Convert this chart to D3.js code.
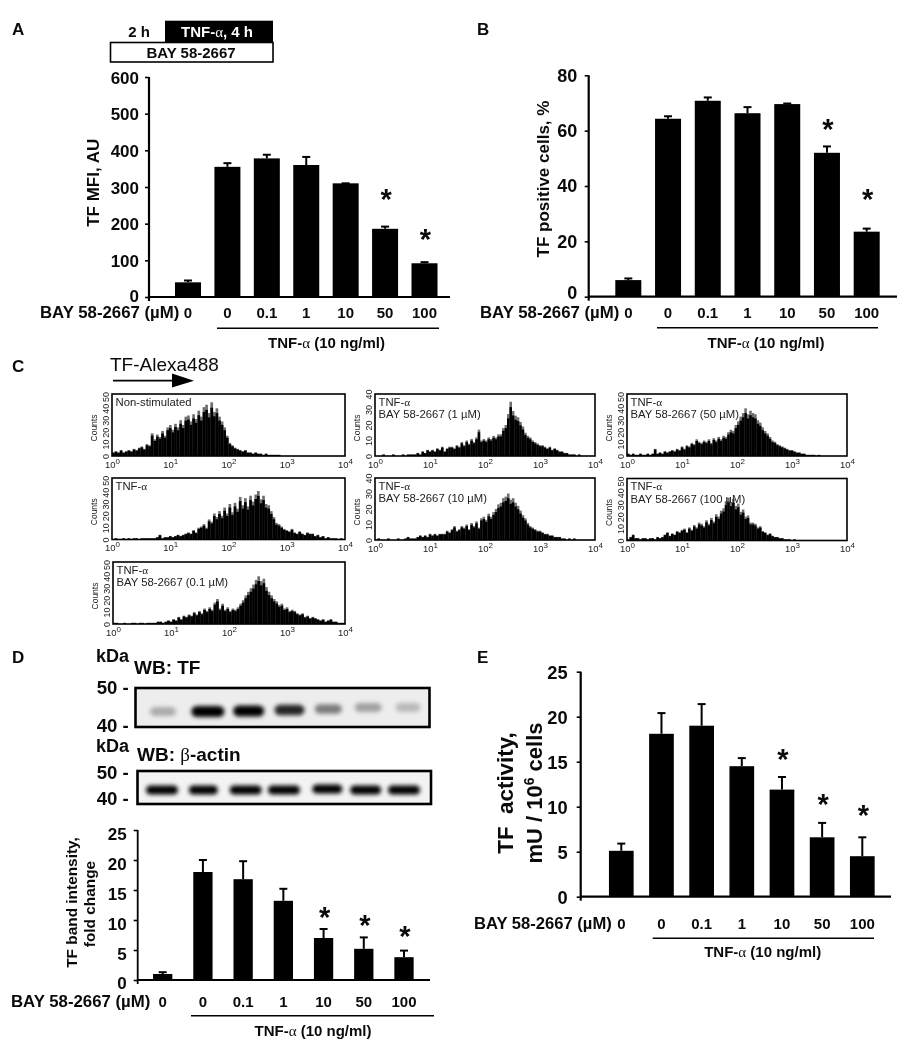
<!DOCTYPE html>
<html><head><meta charset="utf-8">
<script src="https://cdn.jsdelivr.net/npm/d3@7"></script>
<style>
html,body{margin:0;padding:0;background:#fff}
svg{display:block;filter:blur(0.35px)}
text{font-family:"Liberation Sans",Arial,sans-serif;fill:#0a0a0a}
.b{font-weight:700}
</style></head><body><div id="c"></div>
<script>
// ---------- data ----------
const doseLabels = ["0","0","0.1","1","10","50","100"];
const tfMfi      = [40,355,378,360,310,186,92];
const tfMfiTop   = [45,365,388,382,310,192,95];
const tfMfiStar  = [null,null,null,null,null,273,164];
const tfPos      = [6,64.3,70.8,66.3,69.6,52,23.5];
const tfPosTop   = [6.6,65.2,72,68.5,69.8,54.3,24.6];
const tfPosStar  = [null,null,null,null,null,61.3,36];
const band       = [1,18,16.8,13.2,7,5.2,3.8];
const bandTop    = [1.3,20,19.8,15.2,8.5,7.1,4.9];
const bandStar   = [null,null,null,null,10.8,9.55,7.67];
const activity   = [5.1,18.1,19,14.5,11.9,6.6,4.5];
const activityTop= [5.9,20.4,21.4,15.4,13.3,8.2,6.6];
const activityStar=[null,null,null,null,15.5,10.5,9.27];

const histNon = [3,4,3,5,3,4,5,4,6,5,7,8,6,10,9,19,14,18,16,21,17,24,26,22,27,24,30,26,33,34,29,35,31,38,33,41,43,36,45,37,40,33,29,24,17,11,9,7,6,5,4,5,3,3,2,3,2,2,1,2,1,1,1,1,1,0,0,0,0,0];
const histTnf = [0,1,0,0,1,0,1,0,1,1,0,1,1,1,1,1,1,2,4,1,2,2,3,2,3,4,3,4,5,6,5,8,6,10,11,13,10,17,15,22,19,24,20,27,22,30,23,31,26,36,29,35,28,37,32,38,41,34,37,30,29,24,19,14,13,11,9,8,7,9,6,5,7,5,4,6,5,5,3,4,2,3,1,2,1,1,1,0,1,0];
const hist01  = [1,1,0,0,1,0,0,1,1,0,1,1,0,1,1,1,1,2,2,1,2,3,2,4,3,6,4,7,6,8,7,10,8,11,9,13,11,14,12,18,21,13,17,12,14,11,13,12,14,17,20,24,27,30,33,37,40,36,38,31,27,24,21,19,16,17,13,14,11,12,11,9,8,9,6,7,5,6,5,4,3,4,2,3,4,2,2,1,1,1];
const hist1   = [0,0,0,1,0,0,0,1,0,0,0,1,0,1,1,1,1,2,1,3,2,4,3,4,3,5,4,6,3,5,6,6,5,7,6,9,7,10,8,11,9,12,17,10,11,10,12,11,13,12,14,14,18,20,27,35,29,26,25,22,19,15,13,12,10,9,8,7,7,6,5,6,4,5,4,3,3,2,2,1,1,1,0,1,0,0,0,0,0,0];
const hist10  = [0,1,0,0,0,1,0,0,0,1,0,0,1,2,1,1,1,2,3,2,3,2,4,3,4,3,4,4,4,6,5,7,9,6,7,9,8,10,7,11,9,12,8,14,15,13,17,15,18,20,23,24,27,28,30,26,27,24,22,19,16,14,11,9,8,7,6,6,5,4,4,3,3,2,2,2,1,1,0,1,0,1,0,0,0,0,0,0,0,0];
const hist50  = [2,1,2,1,1,2,1,1,2,1,2,6,2,3,2,4,3,4,5,4,6,5,8,6,9,8,11,10,14,12,11,13,12,14,11,15,13,16,14,17,16,20,22,21,26,29,33,36,40,35,38,36,35,30,28,24,21,19,16,13,12,10,9,8,7,6,5,5,4,3,3,2,2,1,1,1,1,0,1,0,0,0,0,0,0,0,0,0,0,0];
const hist100 = [1,3,5,2,2,1,2,2,1,2,2,1,3,2,3,5,7,4,6,5,8,7,9,10,7,11,9,13,11,15,14,12,17,14,19,16,22,20,25,27,33,36,32,35,29,31,24,26,20,21,15,15,14,11,12,8,7,5,6,4,3,3,2,2,1,1,1,0,1,0,0,0,0,0,0,0,0,0,0,0];

const tfBlot    = [0.28,1,1,0.85,0.48,0.32,0.22];
const actinBlot = [1,1,1,1,1,1,1];

// ---------- layout ----------
const W = 902, H = 1050;
const svg = d3.select("#c").append("svg").attr("width",W).attr("height",H).attr("viewBox",[0,0,W,H]);
const defs = svg.append("defs");
defs.append("filter").attr("id","blot").attr("x","-30%").attr("y","-100%").attr("width","160%").attr("height","300%")
  .append("feGaussianBlur").attr("stdDeviation","2.2 1.9");

function txt(x,y,s,size,opt={}){
  const t = svg.append("text").attr("x",x).attr("y",y).attr("font-size",size)
    .attr("text-anchor",opt.anchor||"start").attr("font-weight",opt.weight||700);
  if(opt.fill) t.style("fill",opt.fill);
  if(opt.rotate) t.attr("transform",`rotate(-90 ${x} ${y})`);
  return t.text(s);
}
function alpha(sel,parts){
  sel.text(null);
  parts.forEach(p=>{
    const ts = sel.append("tspan").text(p);
    if(p==="α") ts.style("font-family","'Liberation Serif',serif").attr("font-weight",400);
  });
  return sel;
}
function hline(x1,x2,y,w){svg.append("line").attr("x1",x1).attr("x2",x2).attr("y1",y).attr("y2",y).attr("stroke","#000").attr("stroke-width",w);}

function barPanel(c){
  const y = d3.scaleLinear().domain([0,c.max]).range([c.y0,c.yTop]);
  const step = (c.lastC-c.firstC)/6;
  const pad = 1-c.barW/step;
  const x = d3.scaleBand().domain(d3.range(7)).range([c.firstC-step/2,c.lastC+step/2]).paddingInner(pad).paddingOuter(pad/2);
  const g = svg.append("g");
  g.selectAll("rect.bar").data(c.values).join("rect").attr("class","bar")
    .attr("x",(d,i)=>x(i)).attr("width",x.bandwidth()).attr("y",d=>y(d)).attr("height",d=>c.y0-y(d)).attr("fill","#000");
  g.selectAll("line.err").data(c.tops).join("line").attr("class","err")
    .attr("x1",(d,i)=>x(i)+x.bandwidth()/2).attr("x2",(d,i)=>x(i)+x.bandwidth()/2)
    .attr("y1",(d,i)=>y(c.values[i])).attr("y2",d=>y(d)).attr("stroke","#000").attr("stroke-width",2);
  g.selectAll("line.cap").data(c.tops).join("line").attr("class","cap")
    .attr("x1",(d,i)=>x(i)+x.bandwidth()/2-4).attr("x2",(d,i)=>x(i)+x.bandwidth()/2+4)
    .attr("y1",d=>y(d)).attr("y2",d=>y(d)).attr("stroke","#000").attr("stroke-width",2);
  c.stars.forEach((d,i)=>{
    if(d===null) return;
    g.append("text").attr("class","b").attr("x",x(i)+x.bandwidth()/2+1).attr("y",y(d)+12)
     .attr("text-anchor","middle").attr("font-size",29).attr("font-weight",700).text("*");
  });
  const ya = g.append("g").attr("transform",`translate(${c.axisX},0)`)
    .call(d3.axisLeft(y).tickValues(c.ticks).tickSize(4).tickPadding(c.tickPad).tickFormat(d3.format("d")));
  ya.selectAll("line").attr("stroke","#000").attr("stroke-width",1.6);
  ya.select(".domain").attr("stroke","#000").attr("stroke-width",c.axisW).attr("d",`M0,${c.y0+4}V${c.yTop}`);
  ya.selectAll("text").attr("font-size",c.tickSize).attr("font-weight",700)
    .attr("dy",d=>d===0?c.zeroDy+"em":c.tickDy+"em")
    .style("font-family","'Liberation Sans',Arial,sans-serif").style("fill","#0a0a0a");
  hline(c.axisX,c.axisEnd,c.y0,c.axisW);
  const xa = g.append("g").attr("transform",`translate(0,${c.y0})`)
    .call(d3.axisBottom(x).tickSize(0).tickFormat(i=>doseLabels[i]));
  xa.select(".domain").remove();
  xa.selectAll("text").attr("y",c.catY).attr("dy",0).attr("font-size",c.catSize).attr("font-weight",700)
    .style("font-family","'Liberation Sans',Arial,sans-serif").style("fill","#0a0a0a");
  txt(c.bayX,c.bayY,"BAY 58-2667 (µM)",c.baySize);
  hline(c.lineX1,c.lineX2,c.lineY,1.6);
  alpha(txt(c.tnfX,c.tnfY,"",15,{anchor:"middle"}),["TNF-","α"," (10 ng/ml)"]);
}

barPanel({values:tfMfi,tops:tfMfiTop,stars:tfMfiStar,max:600,y0:297,yTop:77,firstC:188,lastC:424.5,barW:26,
  axisX:149,axisEnd:450,axisW:2.2,ticks:[0,100,200,300,400,500,600],tickPad:6,tickSize:17,tickDy:0.37,zeroDy:0.24,catY:21.3,catSize:15,
  bayX:40,bayY:317.5,baySize:16.8,lineX1:217,lineX2:439,lineY:328.3,tnfX:326.5,tnfY:348});
barPanel({values:tfPos,tops:tfPosTop,stars:tfPosStar,max:80,y0:296.7,yTop:75.3,firstC:628.3,lastC:866.7,barW:26,
  axisX:588.7,axisEnd:897,axisW:2.2,ticks:[0,20,40,60,80],tickPad:7.5,tickSize:18,tickDy:0.33,zeroDy:0.12,catY:21.3,catSize:15,
  bayX:480,bayY:317.5,baySize:16.8,lineX1:657,lineX2:878,lineY:327.7,tnfX:766,tnfY:348});
barPanel({values:band,tops:bandTop,stars:bandStar,max:25,y0:980,yTop:830,firstC:162.7,lastC:404,barW:19.3,
  axisX:137.7,axisEnd:430,axisW:1.8,ticks:[0,5,10,15,20,25],tickPad:7,tickSize:17,tickDy:0.55,zeroDy:0.47,catY:27,catSize:15,
  bayX:11,bayY:1006.7,baySize:16.8,lineX1:191,lineX2:434,lineY:1015.7,tnfX:313,tnfY:1035.7});
barPanel({values:activity,tops:activityTop,stars:activityStar,max:25,y0:896.7,yTop:671.7,firstC:621.3,lastC:862.3,barW:24.7,
  axisX:580.7,axisEnd:891,axisW:2.2,ticks:[0,5,10,15,20,25],tickPad:9,tickSize:18.3,tickDy:0.37,zeroDy:0.37,catY:32.6,catSize:15,
  bayX:474,bayY:929,baySize:16.6,lineX1:652.7,lineX2:874,lineY:938.3,tnfX:762.7,tnfY:957.3});

[["A",12,35],["B",477,35],["C",12,372],["D",12,663],["E",477,663]].forEach(d=>txt(d[1],d[2],d[0],17));

txt(99,182.7,"TF MFI, AU",17,{anchor:"middle",rotate:true});
txt(549,179,"TF positive cells, %",17,{anchor:"middle",rotate:true});
txt(76.7,902.5,"TF band intensity,",15.4,{anchor:"middle",rotate:true});
txt(95,904,"fold change",15.4,{anchor:"middle",rotate:true});
txt(512.7,793,"TF  activity,",22.4,{anchor:"middle",rotate:true}).style("white-space","pre");
{
  const t = txt(541.7,793,"",22,{anchor:"middle",rotate:true});
  t.append("tspan").text("mU / 10");
  t.append("tspan").attr("dy",-8).attr("font-size",14).text("6");
  t.append("tspan").attr("dy",8).text(" cells");
}

svg.append("rect").attr("x",165).attr("y",20.7).attr("width",108).attr("height",21.3).attr("fill","#000");
svg.append("rect").attr("x",110.5).attr("y",42.5).attr("width",162.5).attr("height",19.5).attr("fill","#fff").attr("stroke","#000").attr("stroke-width",1.6);
txt(139,36.7,"2 h",15,{anchor:"middle"});
alpha(txt(217,36.7,"",15,{anchor:"middle",fill:"#fff"}),["TNF-","α",", 4 h"]).selectAll("tspan").style("fill","#fff");
txt(191,58.3,"BAY 58-2667",15,{anchor:"middle"});

txt(110,371,"TF-Alexa488",19,{weight:400});
hline(113,174,380.7,1.8);
svg.append("path").attr("d",d3.line()([[172,373.5],[194,380.7],[172,387.5]])+"Z").attr("fill","#000");

function hist(c){
  const x = d3.scaleLog().domain([1,1e4]).range([c.x,c.x+c.w]);
  const y = d3.scaleLinear().domain([0,c.yMax]).range([c.y+c.h,c.y]);
  const g = svg.append("g");
  const binEdge = i=>x(Math.pow(10,i/22.5));
  g.selectAll("rect.t").data(c.data).join("rect").attr("class","t")
    .attr("x",(d,i)=>binEdge(i)).attr("width",(d,i)=>binEdge(i+1)-binEdge(i)+0.1)
    .attr("y",d=>y(d)).attr("height",d=>c.y+c.h-y(d)).attr("fill","#6e6e6e");
  g.selectAll("rect.s").data(c.data).join("rect").attr("class","s")
    .attr("x",(d,i)=>binEdge(i)).attr("width",(d,i)=>binEdge(i+1)-binEdge(i)+0.1)
    .attr("y",d=>y(d*0.9)).attr("height",d=>c.y+c.h-y(d*0.9)).attr("fill","#000");
  g.append("rect").attr("x",c.x).attr("y",c.y).attr("width",c.w).attr("height",c.h).attr("fill","none").attr("stroke","#000").attr("stroke-width",1.6);
  const xa = g.append("g").attr("transform",`translate(0,${c.y+c.h})`)
    .call(d3.axisBottom(x).tickValues([1,10,100,1000,10000]).tickSize(0).tickFormat(()=>""));
  xa.select(".domain").remove();
  xa.selectAll(".tick text").each(function(d){
    const t = d3.select(this).attr("y",11.5).attr("dy",0).attr("font-size",9.5).attr("text-anchor","middle")
      .style("font-family","'Liberation Sans',Arial,sans-serif").style("fill","#222");
    t.append("tspan").text("10");
    t.append("tspan").attr("dy",-4).attr("font-size",8).text(Math.round(Math.log10(d)));
  });
  const ya = g.append("g").attr("transform",`translate(${c.x},0)`)
    .call(d3.axisLeft(y).tickValues(c.ticks).tickSize(0).tickFormat(d3.format("d")));
  ya.select(".domain").remove();
  ya.selectAll("text").attr("x",0).attr("y",0).attr("dy",0).attr("text-anchor","middle").attr("font-size",9)
    .attr("transform","translate(-3,0) rotate(-90)")
    .style("font-family","'Liberation Sans',Arial,sans-serif").style("fill","#222");
  txt(c.x-15,c.y+c.h/2+3,"Counts",8.5,{anchor:"middle",rotate:true,weight:400,fill:"#222"});
  c.labels.forEach((l,i)=>{
    alpha(txt(c.x+3.5,c.y+11.5+i*12.5,"",11.3,{weight:400,fill:"#222"}),l);
  });
}
const t50=[0,10,20,30,40,50], t40=[0,10,20,30,40];
const bayLine = s=>["BAY 58-2667  ("+s+" µM)"];
hist({x:112,y:394,w:233,h:62,yMax:52,ticks:t50,data:histNon,labels:[["Non-stimulated"]]});
hist({x:112,y:478,w:233,h:61.5,yMax:52,ticks:t50,data:histTnf,labels:[["TNF-","α"]]});
hist({x:113,y:562,w:232,h:62,yMax:52,ticks:t50,data:hist01,labels:[["TNF-","α"],bayLine("0.1")]});
hist({x:375,y:394,w:220,h:62,yMax:40,ticks:t40,data:hist1,labels:[["TNF-","α"],bayLine("1")]});
hist({x:375,y:478,w:220,h:62,yMax:40,ticks:t40,data:hist10,labels:[["TNF-","α"],bayLine("10")]});
hist({x:627,y:394,w:220,h:62,yMax:52,ticks:t50,data:hist50,labels:[["TNF-","α"],bayLine("50")]});
hist({x:627,y:478.5,w:220,h:62,yMax:52,ticks:t50,data:hist100,labels:[["TNF-","α"],bayLine("100")]});

function blot(c){
  const id="clip"+c.id;
  defs.append("clipPath").attr("id",id).append("rect").attr("x",c.x).attr("y",c.y).attr("width",c.w).attr("height",c.h);
  svg.append("rect").attr("x",c.x).attr("y",c.y).attr("width",c.w).attr("height",c.h).attr("fill",c.bg);
  const lane = d3.scalePoint().domain(d3.range(7)).range(c.laneRange);
  const g = svg.append("g").attr("clip-path",`url(#${id})`);
  g.selectAll("rect.band").data(c.data).join("rect").attr("class","band")
    .attr("x",(d,i)=>lane(i)+c.shift[i]-c.hw[i]).attr("width",(d,i)=>2*c.hw[i])
    .attr("y",(d,i)=>c.cy+c.drift[i]-c.hh*(0.75+0.25*d)).attr("height",d=>2*c.hh*(0.75+0.25*d))
    .attr("rx",c.hh).attr("fill","#000").attr("fill-opacity",d=>d).attr("filter","url(#blot)");
  svg.append("rect").attr("x",c.x).attr("y",c.y).attr("width",c.w).attr("height",c.h).attr("fill","none").attr("stroke","#000").attr("stroke-width",2.6);
}
blot({id:"tf",x:135.5,y:688,w:294,h:39,bg:"#ededed",data:tfBlot,laneRange:[163,408],cy:711.5,hh:5.5,
  shift:[0,4,4,4,2,1,0],drift:[0,0,-0.5,-1.5,-2.5,-4,-4],hw:[13,16.5,15.5,15,13.5,13.5,12.5]});
blot({id:"act",x:137.5,y:771,w:293.5,h:33,bg:"#f3f3f3",data:actinBlot,laneRange:[162,404],cy:790,hh:4.5,
  shift:[0,1,3,1,4,2,0],drift:[0,0,0,0,-1,0,0],hw:[16,14.5,16,16,15,15.5,16]});
txt(96,661.7,"kDa",18); txt(134,674,"WB: TF",19);
txt(96.7,694,"50 -",18.6); txt(96.7,731.7,"40 -",18.6);
txt(96,751.7,"kDa",18);
{
  const t = txt(137,760.7,"WB: ",19);
  t.append("tspan").text("β").style("font-family","'Liberation Serif',serif").attr("font-weight",400);
  t.append("tspan").text("-actin");
}
txt(96.7,779.3,"50 -",18.6); txt(96.7,805,"40 -",18.6);
</script></body></html>
